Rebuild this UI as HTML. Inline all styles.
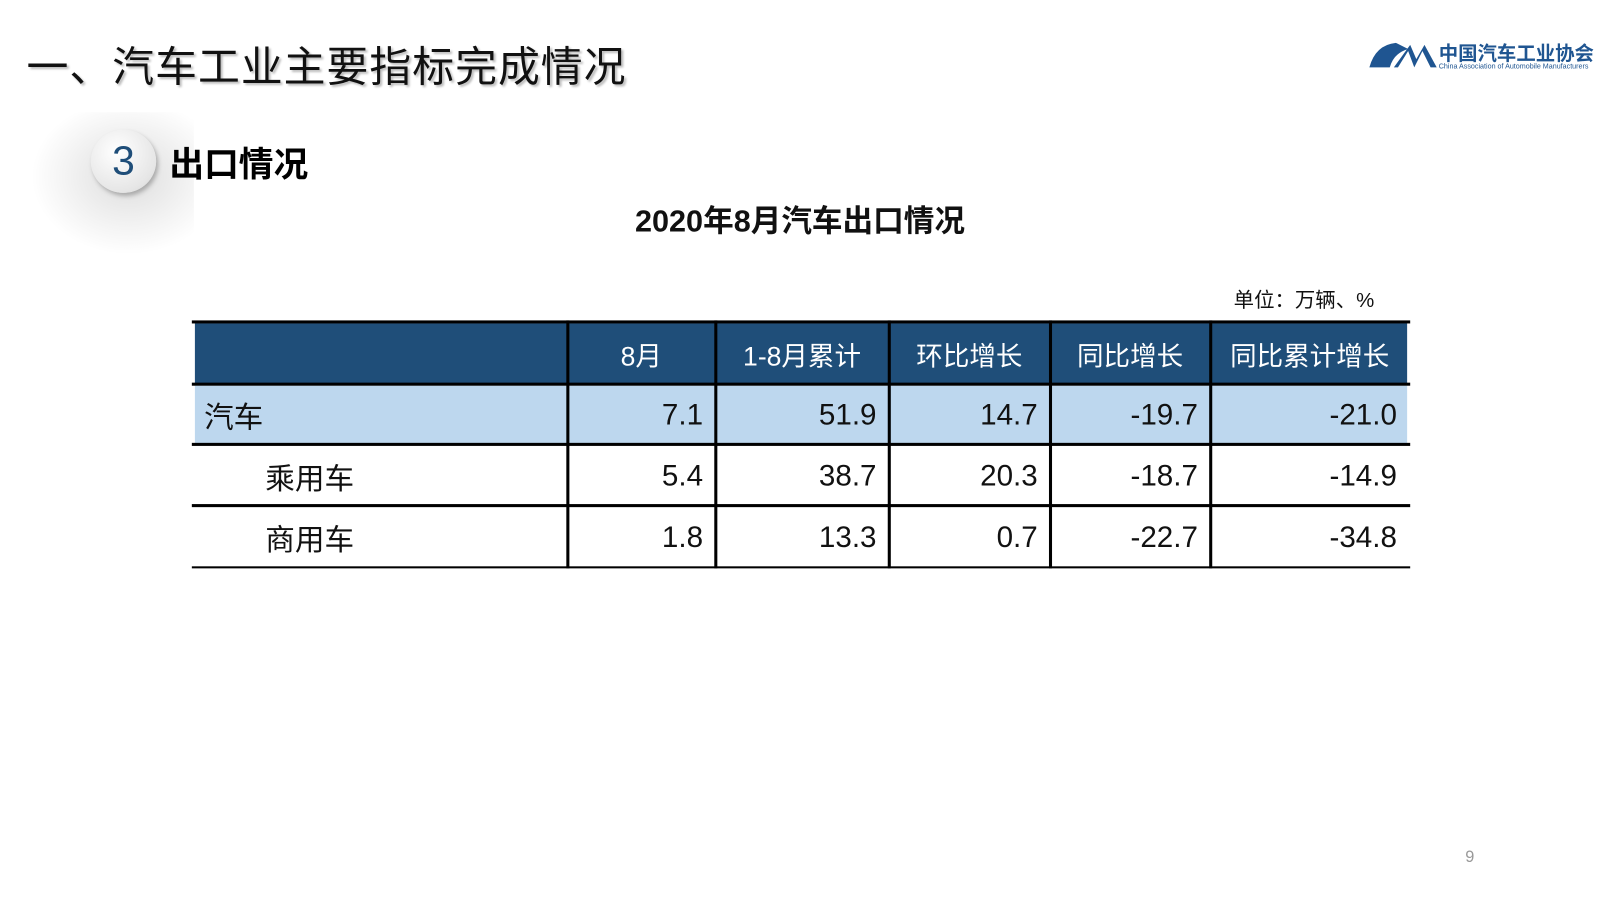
<!DOCTYPE html>
<html><head><meta charset="utf-8"><style>
body{margin:0;width:1600px;height:900px;background:#fff;position:relative;overflow:hidden;font-family:"Liberation Sans","Noto Sans CJK SC",sans-serif}
#w{position:absolute;left:0;top:0;width:1568px;height:882px;transform:scale(1.0204);transform-origin:0 0}
.a{position:absolute}
.cell{position:absolute;display:flex;align-items:center;box-sizing:border-box;font-size:29px;color:#111}
.r{justify-content:flex-end;padding-right:12px}
.h{justify-content:center;color:#fff;font-size:26px}
.vl{position:absolute;width:3px;background:#000}
.hl{position:absolute;left:188px;width:1194px;background:#000}
</style></head><body>
<div id="w">
<div class="a" style="left:26px;top:32px;font-size:41px;letter-spacing:1px;color:#111;text-shadow:2px 2px 2px #bbb">一、汽车工业主要指标完成情况</div>
<div class="a" style="left:1340px;top:38px;width:220px;height:36px">
<svg width="70" height="34" style="position:absolute;left:0;top:0"><path d="M28 4 Q8 6 2 28 L22 28 Q26 14 40 10 Z" fill="#1f5591"/><path d="M30 28 L40 12 L46 28 L54 12 L62 28 L68 28 L56 6 L48 20 L42 6 L26 28Z" fill="#1f5591"/></svg>
<div class="a" style="left:70px;top:0;font-size:19px;font-weight:bold;color:#1f5591;white-space:nowrap">中国汽车工业协会</div>
<div class="a" style="left:70px;top:24px;font-size:7px;color:#1f5591;white-space:nowrap">China Association of Automobile Manufacturers</div>
</div>
<div class="a" style="left:30px;top:110px;width:160px;height:140px;background:radial-gradient(ellipse at 60% 45%,#ddd 0%,#f3f3f3 45%,#fff 70%)"></div>
<div class="a" style="left:89px;top:127px;width:64px;height:62px;border-radius:50%;background:radial-gradient(circle at 40% 35%,#fff,#e6e6e6 70%,#d0d0d0);box-shadow:2px 3px 4px #aaa;color:#1f4e79;font-size:40px;display:flex;align-items:center;justify-content:center">3</div>
<div class="a" style="left:166px;top:134px;font-size:34px;font-weight:bold;color:#000">出口情况</div>
<div class="a" style="left:0;width:1568px;text-align:center;top:192px;font-size:30px;font-weight:bold;color:#111">2020年8月汽车出口情况</div>
<div class="a" style="left:1209px;top:278px;font-size:20px;color:#111">单位：万辆、%</div>
<div class="a" style="left:191px;top:317px;width:1188px;height:59px;background:#1f4e79"></div>
<div class="a" style="left:191px;top:378px;width:1188px;height:57px;background:#bdd7ee"></div>
<div id="t"></div>
<div class="a" style="left:1436px;top:832px;font-size:16px;color:#999">9</div>
</div>
<script>
const cols=[188,556,701,871,1029,1186,1381];
const heads=['','8月','1-8月累计','环比增长','同比增长','同比累计增长'];
const rowNames=['汽车','乘用车','商用车'];
const vals=[['7.1','51.9','14.7','-19.7','-21.0'],['5.4','38.7','20.3','-18.7','-14.9'],['1.8','13.3','0.7','-22.7','-34.8']];
const rowsY=[317,377,437,497,557];
const t=document.getElementById('t');
function mk(cls,css,txt){const d=document.createElement('div');d.className=cls;d.style.cssText=css;if(txt!==undefined)d.textContent=txt;t.appendChild(d);return d;}
heads.forEach((h,i)=>{if(!h)return;const d=mk('cell h',`left:${cols[i]}px;width:${cols[i+1]-cols[i]}px;top:317px;height:60px`,h);

});
rowNames.forEach((n,r)=>{const y=rowsY[r+1],hgt=rowsY[r+2]-y;
const d=mk('cell',`left:${cols[0]}px;width:${cols[1]-cols[0]}px;top:${y}px;height:${hgt}px;padding-left:${r?72:12}px`,n);


vals[r].forEach((v,c)=>{const e=mk('cell r',`left:${cols[c+1]}px;width:${cols[c+2]-cols[c+1]}px;top:${y}px;height:${hgt}px`,v);

});});
[[314,3],[375,3],[434,3],[494,3],[555,2]].forEach(([y,h])=>{const l=mk('hl',`top:${y}px;height:${h}px`);

});
cols.slice(1,6).forEach(x=>{const l=mk('vl',`left:${x-1}px;top:314px;height:243px`);

});
</script>
</body></html>
